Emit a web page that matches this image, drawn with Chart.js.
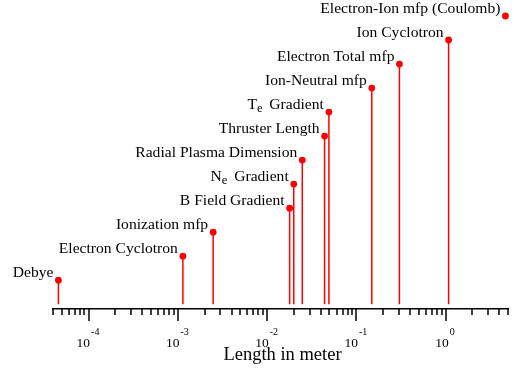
<!DOCTYPE html>
<html>
<head>
<meta charset="utf-8">
<script src="https://cdn.jsdelivr.net/npm/chart.js@4/dist/chart.umd.min.js"></script>
<style>
  body { margin: 0; background: #fff; }
  canvas { display: block; }
</style>
</head>
<body>
<canvas id="chart" width="514" height="370"></canvas>
<script>
// data
const names = [
  "Debye", "Electron Cyclotron", "Ionization mfp", "B Field Gradient",
  "N_e Gradient", "Radial Plasma Dimension", "Thruster Length", "T_e Gradient",
  "Ion-Neutral mfp", "Electron Total mfp", "Ion Cyclotron", "Electron-Ion mfp (Coulomb)"
];
const lengths = [4.6e-5, 1.14e-3, 2.49e-3, 0.0179, 0.0199, 0.0248, 0.0441, 0.0493, 0.149, 0.304, 1.08, 4.68];
const ranks = [1, 2, 3, 4, 5, 6, 7, 8, 9, 10, 11, 12];
const hasStem = [true, true, true, true, true, true, true, true, true, true, true, false];
const majorTicks = [1e-4, 1e-3, 1e-2, 1e-1, 1];
const tickExponents = ["-4", "-3", "-2", "-1", "0"];
const xMin = 4e-5, xMax = 5;

const RED = "#ff0000";
const SERIF = "'Liberation Serif', 'DejaVu Serif', serif";
const LABEL_FONT = "15.6px " + SERIF;

// stems: pairs of points broken by gaps
const stemData = [];
lengths.forEach((v, i) => {
  if (!hasStem[i]) return;
  stemData.push({ x: v, y: 0 }, { x: v, y: ranks[i] }, { x: v, y: null });
});
const dotData = lengths.map((v, i) => ({ x: v, y: ranks[i] }));

// minor ticks 2..9 of each decade inside the axis range
const minorTicks = [];
for (let e = -5; e <= 0; e++) {
  for (let m = 2; m <= 9; m++) {
    const t = m * Math.pow(10, e);
    if (t >= xMin && t <= xMax) minorTicks.push(t);
  }
}

const decorations = {
  id: "decorations",
  afterDraw(chart) {
    const { ctx, chartArea } = chart;
    const xs = chart.scales.x, ys = chart.scales.y;
    const base = chartArea.bottom;
    ctx.save();
    ctx.strokeStyle = "#000";
    ctx.lineWidth = 1.5;
    ctx.beginPath();
    minorTicks.forEach(t => {
      const px = Math.round(xs.getPixelForValue(t));
      ctx.moveTo(px, base); ctx.lineTo(px, base + 6);
    });
    majorTicks.forEach(t => {
      const px = Math.round(xs.getPixelForValue(t));
      ctx.moveTo(px, base); ctx.lineTo(px, base + 12);
    });
    ctx.stroke();

    // tick labels 10^n
    ctx.fillStyle = "#000";
    ctx.textBaseline = "alphabetic";
    majorTicks.forEach((t, i) => {
      const px = xs.getPixelForValue(t);
      ctx.font = "13.5px " + SERIF;
      const w10 = ctx.measureText("10").width;
      ctx.font = "10px " + SERIF;
      const wExp = ctx.measureText(tickExponents[i]).width;
      const left = px - (w10 + wExp) / 2 - 1;
      ctx.textAlign = "left";
      ctx.font = "13.5px " + SERIF;
      ctx.fillText("10", left, base + 38);
      ctx.font = "10px " + SERIF;
      ctx.fillText(tickExponents[i], left + w10 + 1, base + 26);
    });

    // axis title
    ctx.font = "18.5px " + SERIF;
    ctx.textAlign = "center";
    ctx.fillText("Length in meter", (chartArea.left + chartArea.right) / 2 + 2, base + 51);

    // point labels, right aligned next to each dot
    names.forEach((name, i) => {
      const px = xs.getPixelForValue(lengths[i]) - 5;
      const py = ys.getPixelForValue(ranks[i]) - 3;
      ctx.textAlign = "left";
      if (name.includes("_")) {
        const head = name.split("_")[0];
        const sub = name.split("_")[1].split(" ")[0];
        const tail = name.slice(name.indexOf(" "));
        ctx.font = LABEL_FONT;
        const wHead = ctx.measureText(head).width;
        const wTail = ctx.measureText(tail).width;
        ctx.font = "12.5px " + SERIF;
        const wSub = ctx.measureText(sub).width;
        let x0 = px - wTail - wSub - wHead - 3;
        ctx.font = LABEL_FONT;
        ctx.fillText(head, x0, py);
        ctx.font = "12.5px " + SERIF;
        ctx.fillText(sub, x0 + wHead, py + 3);
        ctx.font = LABEL_FONT;
        ctx.fillText(tail, x0 + wHead + wSub + 3, py);
      } else {
        ctx.font = LABEL_FONT;
        ctx.textAlign = "right";
        ctx.fillText(name, px, py);
      }
    });
    ctx.restore();
  }
};

new Chart(document.getElementById("chart"), {
  type: "scatter",
  data: {
    datasets: [
      {
        type: "line",
        data: stemData,
        borderColor: RED,
        borderWidth: 1.5,
        pointRadius: 0,
        spanGaps: false,
        fill: false
      },
      {
        data: dotData,
        backgroundColor: RED,
        borderWidth: 0,
        pointRadius: 3.4,
        clip: false
      }
    ]
  },
  options: {
    responsive: false,
    animation: false,
    layout: { padding: { left: 53, right: 6, top: 4, bottom: 61 } },
    plugins: { legend: { display: false }, tooltip: { enabled: false } },
    scales: {
      x: {
        type: "logarithmic",
        min: xMin,
        max: xMax,
        ticks: { display: false },
        grid: { display: false },
        border: { display: true, color: "#000", width: 1.5 },
        afterFit(scale) { scale.height = 0; }
      },
      y: { display: false, min: -0.2, max: 12.5 }
    }
  },
  plugins: [decorations]
});
</script>
</body>
</html>
